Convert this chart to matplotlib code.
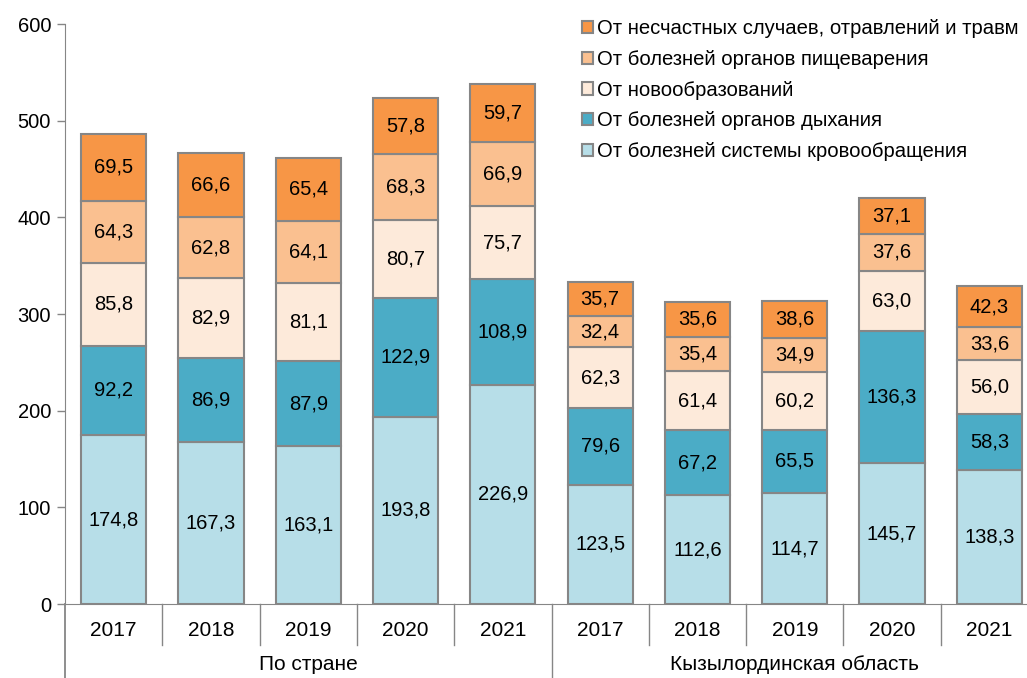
import matplotlib.pyplot as plt
import matplotlib.transforms as mtransforms
from matplotlib.patches import Patch
import numpy as np

plt.rcParams['font.family'] = ['Liberation Sans', 'DejaVu Sans']

years = ["2017", "2018", "2019", "2020", "2021", "2017", "2018", "2019", "2020", "2021"]
groups = ["По стране", "Кызылординская область"]

circulatory = [174.8, 167.3, 163.1, 193.8, 226.9, 123.5, 112.6, 114.7, 145.7, 138.3]
respiratory = [92.2, 86.9, 87.9, 122.9, 108.9, 79.6, 67.2, 65.5, 136.3, 58.3]
neoplasms = [85.8, 82.9, 81.1, 80.7, 75.7, 62.3, 61.4, 60.2, 63.0, 56.0]
digestive = [64.3, 62.8, 64.1, 68.3, 66.9, 32.4, 35.4, 34.9, 37.6, 33.6]
accidents = [69.5, 66.6, 65.4, 57.8, 59.7, 35.7, 35.6, 38.6, 37.1, 42.3]

series = [
    ("От болезней системы кровообращения", circulatory, "#B7DEE8"),
    ("От болезней органов дыхания", respiratory, "#4BACC6"),
    ("От новообразований", neoplasms, "#FDEADA"),
    ("От болезней органов пищеварения", digestive, "#FAC090"),
    ("От несчастных случаев, отравлений и травм", accidents, "#F79646"),
]

fig = plt.figure(figsize=(10.27, 6.78), dpi=100)
ax = fig.add_axes([65 / 1027, 74 / 678, 962 / 1027, 580 / 678])

x = np.arange(len(years))
bottom = np.zeros(len(years))
for name, vals, col in series:
    vals = np.array(vals)
    ax.bar(x, vals, 0.67, bottom=bottom, color=col, edgecolor="#868686", linewidth=1.5, zorder=2)
    for xi, b, v in zip(x, bottom, vals):
        ax.text(xi, b + v / 2, f"{v:.1f}".replace(".", ","), ha="center", va="center",
                fontsize=14.5, color="black", zorder=3)
    bottom += vals

ax.set_xlim(-0.5, -0.5 + 962 / 97.3)
ax.set_ylim(0, 600)
ax.set_yticks(range(0, 601, 100))
ax.tick_params(axis="y", labelsize=14.5, length=6, color="#868686", width=1, pad=4)
ax.set_xticks([])
for s in ["top", "right"]:
    ax.spines[s].set_visible(False)
ax.spines["left"].set_color("#868686")
ax.spines["bottom"].set_color("#868686")
ax.spines["left"].set_bounds(0, 600)

# category separators below the axis
trans = mtransforms.blended_transform_factory(ax.transData, ax.transAxes)
for b in np.arange(0.5, 9.5, 1.0):
    low = -74 / 580 if b == 4.5 else -41 / 580
    ax.plot([b, b], [0, low], transform=trans, color="#868686", lw=1, clip_on=False)
ax.plot([-0.5, -0.5], [0, -74 / 580], transform=trans, color="#868686", lw=1.3, clip_on=False)

for xi, yr in zip(x, years):
    ax.text(xi, -27 / 580, yr, transform=trans, ha="center", va="center", fontsize=15)
ax.text(2, -60 / 580, groups[0], transform=trans, ha="center", va="center", fontsize=15)
ax.text(7, -60 / 580, groups[1], transform=trans, ha="center", va="center", fontsize=15)

handles = [Patch(facecolor=col, edgecolor="#868686", linewidth=1.5, label=name)
           for name, vals, col in reversed(series)]
fig.legend(handles=handles, loc="upper left", bbox_to_anchor=(568 / 1027, 1 - 5 / 678),
           frameon=False, fontsize=14.6, handlelength=0.55, handleheight=0.55,
           handletextpad=0.2, labelspacing=0.58, borderpad=0.2)

fig.savefig("out.png", dpi=100)
